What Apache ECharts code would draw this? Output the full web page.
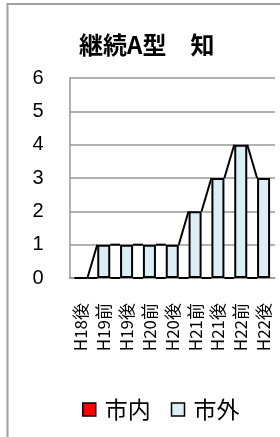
<!DOCTYPE html>
<html>
<head>
<meta charset="utf-8">
<script src="https://cdn.jsdelivr.net/npm/echarts@6/dist/echarts.min.js"></script>
<style>
  html, body { margin: 0; padding: 0; background: #fff; }
  #chart { width: 280px; height: 437px; }
</style>
</head>
<body>
<div id="chart"></div>
<script>
const categories = ['H18後', 'H19前', 'H19後', 'H20前', 'H20後', 'H21前', 'H21後', 'H22前', 'H22後'];
const shinai = [0, 0, 0, 0, 0, 0, 0, 0, 0];
const shigai = [0, 1, 1, 1, 1, 2, 3, 4, 3];
const yTicks = [0, 1, 2, 3, 4, 5, 6];

const BAR_RATIO = 0.57;
const jpFont = '"Noto Sans CJK JP", sans-serif';

// 積み上げの上端 (区分線用)
function stackTops(seriesList) {
    return categories.map((c, i) => seriesList.reduce((s, arr) => s + arr[i], 0));
}

function seriesLineData(tops) {
    let data = [];
    for (let i = 0; i < tops.length - 1; i++) {
        data.push([i, tops[i], tops[i + 1]]);
    }
    return data;
}

function renderSeriesLine(params, api) {
    const i = api.value(0);
    const half = api.size([1, 0])[0] * BAR_RATIO / 2;
    const p1 = api.coord([i, api.value(1)]);
    const p2 = api.coord([i + 1, api.value(2)]);
    return {
        type: 'line',
        shape: { x1: p1[0] + half, y1: p1[1], x2: p2[0] - half, y2: p2[1] },
        style: { stroke: '#000', lineWidth: 2 }
    };
}

const chart = echarts.init(document.getElementById('chart'));
chart.setOption({
    animation: false,
    title: {
        text: '継続A型　知',
        left: 74,
        top: 28,
        textStyle: { fontFamily: jpFont, fontSize: 24, fontWeight: 'bold', color: '#000' }
    },
    graphic: [{
        type: 'rect',
        shape: { x: 7.5, y: 4, width: 400, height: 500 },
        style: { fill: 'none', stroke: '#a0a0a0', lineWidth: 2 },
        silent: true
    }],
    legend: {
        data: [
            { name: '市内', itemStyle: { color: '#ff0000', borderColor: '#000', borderWidth: 1.5 } },
            { name: '市外', itemStyle: { color: '#daeef3', borderColor: '#000', borderWidth: 1.5 } }
        ],
        icon: 'rect',
        left: 77,
        top: 393,
        itemWidth: 13,
        itemHeight: 13,
        itemGap: 20,
        textStyle: { fontFamily: jpFont, fontSize: 23, color: '#000', padding: [0, 0, 0, 4] }
    },
    grid: { left: 69.5, right: 5, top: 78, bottom: 159 },
    xAxis: {
        type: 'category',
        data: categories,
        axisTick: { show: false },
        axisLine: { lineStyle: { color: '#999', width: 1.5 } },
        axisLabel: {
            rotate: 90,
            margin: 25,
            fontFamily: jpFont,
            fontSize: 17,
            color: '#000'
        }
    },
    yAxis: {
        type: 'value',
        min: yTicks[0],
        max: yTicks[yTicks.length - 1],
        interval: 1,
        axisLine: { show: true, lineStyle: { color: '#999', width: 1.5 } },
        axisTick: { show: false },
        splitLine: { lineStyle: { color: '#999', width: 1.5 } },
        axisLabel: {
            margin: 26,
            fontFamily: '"Liberation Sans", sans-serif',
            fontSize: 20,
            color: '#000'
        }
    },
    series: [
        {
            name: '市内',
            type: 'bar',
            stack: 'total',
            data: shinai,
            barWidth: (BAR_RATIO * 100) + '%',
            itemStyle: { color: '#ff0000', borderWidth: 0 }
        },
        {
            name: '市外',
            type: 'bar',
            stack: 'total',
            data: shigai,
            barWidth: (BAR_RATIO * 100) + '%',
            itemStyle: { color: '#daeef3', borderColor: '#000', borderWidth: 2 }
        },
        {
            name: '区分線市内',
            type: 'custom',
            renderItem: renderSeriesLine,
            data: seriesLineData(stackTops([shinai])),
            z: 3
        },
        {
            name: '区分線市外',
            type: 'custom',
            renderItem: renderSeriesLine,
            data: seriesLineData(stackTops([shinai, shigai])),
            z: 3
        }
    ]
});
</script>
</body>
</html>
